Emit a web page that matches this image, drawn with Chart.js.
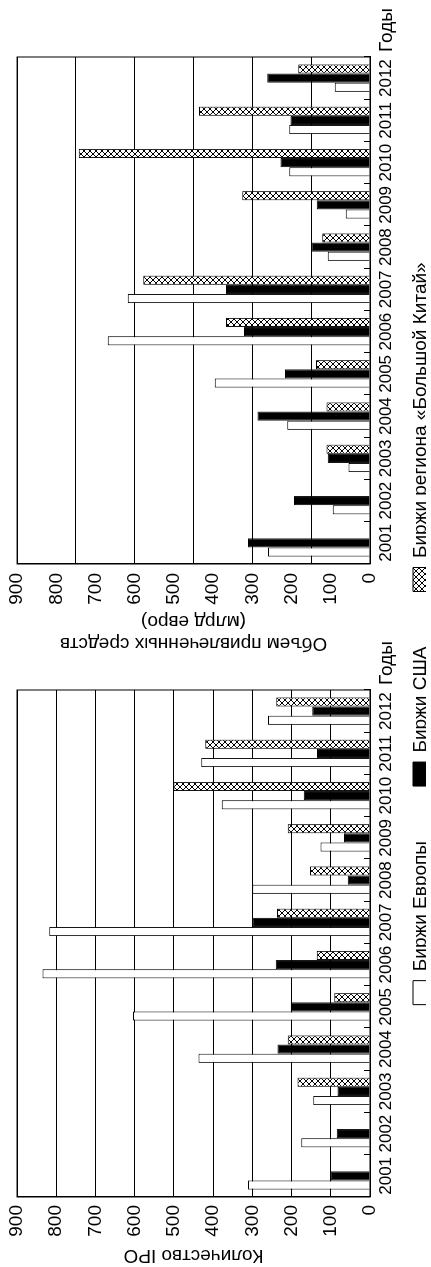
<!DOCTYPE html>
<html>
<head>
<meta charset="utf-8">
<script src="https://cdn.jsdelivr.net/npm/chart.js@4.4.1/dist/chart.umd.min.js"></script>
<style>
  html, body { margin: 0; padding: 0; background: #fff; overflow: hidden; }
  body { width: 431px; height: 1267px; position: relative; }
  /* the figure is drawn upright and then turned a quarter left */
  #fig {
    position: absolute; left: 0; top: 0;
    width: 1267px; height: 431px;
    transform-origin: 0 0;
    transform: translateY(1267px) rotate(-90deg);
  }
  #fig canvas { position: absolute; }
</style>
</head>
<body>
<div id="fig">
  <canvas id="chartIpo" width="633" height="403" style="left:0;top:0"></canvas>
  <canvas id="chartVol" width="667" height="403" style="left:600px;top:0"></canvas>
  <canvas id="chartLegend" width="1267" height="140" style="left:0;top:356px"></canvas>
</div>
<script>
const years = ['2001', '2002', '2003', '2004', '2005', '2006', '2007', '2008', '2009', '2010', '2011', '2012'];

// Количество IPO
const ipoEurope = [311, 175, 145, 437, 604, 835, 818, 300, 126, 378, 430, 260];
const ipoUSA    = [100,  85,  83, 236, 202, 240, 300,  57,  66, 169, 135, 147];
const ipoChina  = [null, null, 185, 210, 91, 136, 237, 153, 210, 501, 420, 239];

// Объем привлеченных средств, млрд евро
const volEurope = [260,  95,  55, 211, 396, 669, 618, 108,  62, 206, 206,  90];
const volUSA    = [311, 194, 108, 287, 217, 321, 367, 149, 136, 228, 203, 262];
const volChina  = [null, null, 111, 111, 138, 367, 578, 122, 326, 743, 436, 183];

const seriesNames = ['Биржи Европы', 'Биржи США', 'Биржи региона «Большой Китай»'];

Chart.defaults.font.family = '"Liberation Sans", Arial, sans-serif';
Chart.defaults.color = '#000';

// crosshatch fill
const tile = document.createElement('canvas');
tile.width = 6; tile.height = 6;
const tctx = tile.getContext('2d');
tctx.fillStyle = '#fff';
tctx.fillRect(0, 0, 6, 6);
tctx.strokeStyle = '#000';
tctx.lineWidth = 1;
tctx.beginPath();
tctx.moveTo(0, 0); tctx.lineTo(6, 6);
tctx.moveTo(6, 0); tctx.lineTo(0, 6);
tctx.stroke();
const hatch = tctx.createPattern(tile, 'repeat');

function makeDatasets(europe, usa, china) {
  return [{
    label: seriesNames[0],
    data: europe,
    backgroundColor: '#fff',
    borderColor: '#000',
    borderWidth: 1
  }, {
    label: seriesNames[1],
    data: usa,
    backgroundColor: '#000',
    borderColor: '#000',
    borderWidth: 1
  }, {
    label: seriesNames[2],
    data: china,
    backgroundColor: hatch,
    borderColor: '#000',
    borderWidth: 1
  }];
}

// box round the plot
const frame = {
  id: 'frame',
  afterDraw(chart) {
    const a = chart.chartArea, ctx = chart.ctx;
    ctx.save();
    ctx.strokeStyle = '#000';
    ctx.lineWidth = 1;
    ctx.strokeRect(a.left, a.top, a.right - a.left, a.bottom - a.top);
    ctx.restore();
  }
};

// "Годы" after the last year
const yearsWord = {
  id: 'yearsWord',
  afterDraw(chart) {
    const ctx = chart.ctx, x = chart.scales.x;
    ctx.save();
    ctx.font = '19px "Liberation Sans", Arial, sans-serif';
    ctx.fillStyle = '#000';
    ctx.textAlign = 'left';
    ctx.textBaseline = 'middle';
    ctx.fillText('Годы', chart.chartArea.right + 5, x.top + 16.5);
    ctx.restore();
  }
};

const xAxis = {
  ticks: { font: { size: 17 }, padding: 12, maxRotation: 0, autoSkip: false },
  grid: { offset: true, drawOnChartArea: false, tickLength: -6, tickColor: '#000' },
  border: { color: '#000' },
  afterFit: s => { s.height = 26; }
};

const configIpo = {
  type: 'bar',
  data: { labels: years, datasets: makeDatasets(ipoEurope, ipoUSA, ipoChina) },
  options: {
    responsive: false,
    animation: false,
    categoryPercentage: 0.65,
    barPercentage: 1,
    layout: { padding: { top: 17, right: 56, bottom: 7, left: 0 } },
    scales: {
      x: xAxis,
      y: {
        min: 0, max: 900,
        ticks: { stepSize: 100, padding: 8, font: { size: 19, lineHeight: 0.95 } },
        grid: { color: '#000', drawTicks: false },
        border: { color: '#000' },
        title: { display: true, text: 'Количество IPO', font: { size: 19 }, padding: { top: 0, bottom: 0 } },
        afterFit: s => { s.width = 70; }
      }
    },
    plugins: { legend: { display: false }, tooltip: { enabled: false } }
  },
  plugins: [frame, yearsWord]
};

const configVol = {
  type: 'bar',
  data: { labels: years, datasets: makeDatasets(volEurope, volUSA, volChina) },
  options: {
    responsive: false,
    animation: false,
    categoryPercentage: 0.65,
    barPercentage: 1,
    layout: { padding: { top: 17, right: 57, bottom: 7, left: 0 } },
    scales: {
      x: xAxis,
      y: {
        min: 0, max: 900,
        // labels every 100, grid lines every 150
        ticks: { stepSize: 50, autoSkip: false, padding: 9, font: { size: 19, lineHeight: 0.85 },
                 callback: v => v % 100 === 0 ? v : '' },
        grid: { color: c => c.tick && c.tick.value % 150 === 0 ? '#000' : 'rgba(0,0,0,0)', drawTicks: false },
        border: { color: '#000' },
        title: { display: true, text: ['Объем привлеченных средств', '(млрд евро)'], font: { size: 19 },
                 padding: { top: 12, bottom: 0 } },
        afterFit: s => { s.width = 103; }
      }
    },
    plugins: { legend: { display: false }, tooltip: { enabled: false } }
  },
  plugins: [frame, yearsWord]
};

const configLegend = {
  type: 'bar',
  data: { labels: [], datasets: makeDatasets([], [], []) },
  options: {
    responsive: false,
    animation: false,
    scales: { x: { display: false }, y: { display: false } },
    plugins: {
      legend: {
        position: 'top',
        labels: { boxWidth: 24, boxHeight: 15, padding: 55, font: { size: 19 }, color: '#000' }
      },
      tooltip: { enabled: false }
    }
  }
};

const chartIpo = new Chart(document.getElementById('chartIpo'), configIpo);
const chartVol = new Chart(document.getElementById('chartVol'), configVol);
const chartLegend = new Chart(document.getElementById('chartLegend'), configLegend);
</script>
</body>
</html>
